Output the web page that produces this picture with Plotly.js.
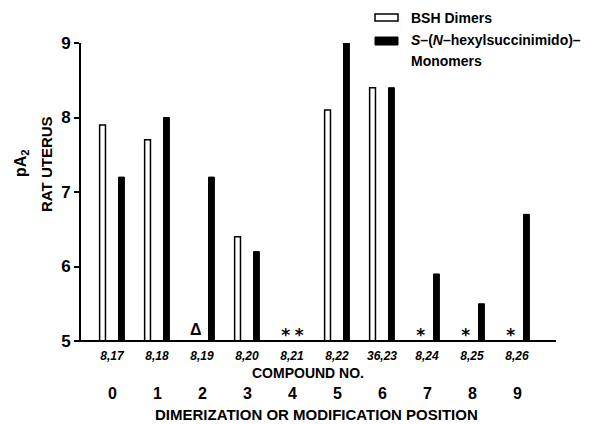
<!DOCTYPE html>
<html><head><meta charset="utf-8">
<script src="https://cdn.plot.ly/plotly-3.0.1.min.js"></script>
<style>body{margin:0;padding:0;background:#fff}#c{width:593px;height:424px}</style>
</head><body><div id="c"></div>
<script>
const positions = [0,1,2,3,4,5,6,7,8,9];
const compoundLabels = ["8,17","8,18","8,19","8,20","8,21","8,22","36,23","8,24","8,25","8,26"];
const dimerValues = [7.9, 7.7, null, 6.4, null, 8.1, 8.4, null, null, null];
const monomerValues = [7.2, 8.0, 7.2, 6.2, null, 9.0, 8.4, 5.9, 5.5, 6.7];
// symbols shown at baseline where no value (Δ = inactive, * = not determined)
const dimerMarks = [null, null, "Δ", null, "*", null, null, "*", "*", "*"];
const monomerMarks = [null, null, null, null, "*", null, null, null, null, null];
const yTicks = [5,6,7,8,9];

const F = "Liberation Sans Narrow, Liberation Sans, Arial, sans-serif";
const bw = 0.13, off = 0.21;

const traces = [
  {type:'bar', x:positions, y:dimerValues, width:bw, offset:-off-bw/2,
   marker:{color:'#fff', line:{color:'#000', width:1.5}}, showlegend:false, hoverinfo:'none'},
  {type:'bar', x:positions, y:monomerValues, width:bw, offset:off-bw/2,
   marker:{color:'#000', line:{color:'#000', width:1}}, showlegend:false, hoverinfo:'none'},
];
const sx=[], sy=[], st=[], tx=[], ty=[], tt=[];
positions.forEach((p,i)=>{
  const add=(m,x)=>{ if(!m) return; if(m==='*'){sx.push(x); sy.push(5.06); st.push(m);} else {tx.push(x); ty.push(5.13); tt.push(m);} };
  add(dimerMarks[i], p-off+0.07);
  add(monomerMarks[i], p+off-0.05);
});
traces.push({type:'scatter', mode:'text', x:sx, y:sy, text:st.map(s=>'<b>'+s+'</b>'), showlegend:false, hoverinfo:'none',
  textfont:{family:"DejaVu Sans, sans-serif", size:17, color:'#000'}});
traces.push({type:'scatter', mode:'text', x:tx, y:ty, text:tt.map(s=>'<b>'+s+'</b>'), showlegend:false, hoverinfo:'none',
  textfont:{family:F, size:16, color:'#000'}});

const W=593,H=424,ml=81,mr=37,mt2=43,mb=83;
const pw=W-ml-mr, ph=H-mt2-mb;
function px2paperX(px){return (px-ml)/pw;}
function px2paperY(py){return (H-mb-py)/ph;}

const annotations = [];
positions.forEach((p,i)=>{
  annotations.push({x:p, y:0, xref:'x', yref:'paper', yanchor:'middle', xanchor:'center', yshift:-52, text:'<b>'+p+'</b>',
    showarrow:false, font:{family:F, size:16, color:'#000'}});
});
annotations.push({x:px2paperX(308), xref:'paper', y:0, yref:'paper', yanchor:'middle', xanchor:'center', yshift:-32, text:'<b>COMPOUND NO.</b>',
  showarrow:false, font:{family:F, size:14, color:'#000'}});
annotations.push({x:px2paperX(316), xref:'paper', y:0, yref:'paper', yanchor:'middle', xanchor:'center', yshift:-73, text:'<b>DIMERIZATION OR MODIFICATION POSITION</b>',
  showarrow:false, font:{family:F, size:15, color:'#000'}});
annotations.push({x:px2paperX(21), y:px2paperY(163), xref:'paper', yref:'paper', xanchor:'center', yanchor:'middle',
  text:'<b>pA<sub>2</sub></b>', textangle:-90, showarrow:false, font:{family:F, size:16, color:'#000'}});
annotations.push({x:px2paperX(46), y:px2paperY(164), xref:'paper', yref:'paper', xanchor:'center', yanchor:'middle',
  text:'<b>RAT UTERUS</b>', textangle:-90, showarrow:false, font:{family:F, size:15, color:'#000'}});
// legend
annotations.push({x:px2paperX(409), y:px2paperY(18), xref:'paper', yref:'paper', xanchor:'left', yanchor:'middle',
  text:'<b>BSH Dimers</b>', showarrow:false, font:{family:F, size:14, color:'#000'}});
annotations.push({x:px2paperX(409), y:px2paperY(40), xref:'paper', yref:'paper', xanchor:'left', yanchor:'middle',
  text:'<b><i>S</i>–(<i>N</i>–hexylsuccinimido)–</b>', showarrow:false, font:{family:F, size:14, color:'#000'}});
annotations.push({x:px2paperX(409), y:px2paperY(61), xref:'paper', yref:'paper', xanchor:'left', yanchor:'middle',
  text:'<b>Monomers</b>', showarrow:false, font:{family:F, size:14, color:'#000'}});

const shapes = [
  {type:'rect', xref:'paper', yref:'paper', x0:px2paperX(375), x1:px2paperX(398), y0:px2paperY(21), y1:px2paperY(14),
   line:{color:'#000', width:1.5}, fillcolor:'#fff'},
  {type:'rect', xref:'paper', yref:'paper', x0:px2paperX(375), x1:px2paperX(398), y0:px2paperY(45), y1:px2paperY(37),
   line:{color:'#000', width:1}, fillcolor:'#000'},
  {type:'line', xref:'paper', yref:'paper', x0:px2paperX(77), x1:1, y0:0, y1:0, line:{color:'#000', width:2}},
];

const layout = {
  width:W, height:H, margin:{l:ml, r:mr, t:mt2, b:mb},
  paper_bgcolor:'#fff', plot_bgcolor:'#fff', showlegend:false, barmode:'overlay',
  xaxis:{range:[-31/45, 9+39/45], tickmode:'array', tickvals:positions, ticktext:compoundLabels.map(s=>'<b><i>'+s+'</i></b>'),
    showgrid:false, zeroline:false, showline:false, ticks:'outside', ticklen:4, tickcolor:'rgba(0,0,0,0)', tickfont:{family:F, size:12, color:'#000'}},
  yaxis:{range:[5,9], tickmode:'array', tickvals:yTicks, showgrid:false, zeroline:false, showline:true,
    linecolor:'#000', linewidth:2, ticks:'outside', ticklen:5, tickwidth:2, tickcolor:'#000',
    ticktext:yTicks.map(v=>'<b>'+v+'</b>'), tickfont:{family:F, size:17, color:'#000'}},
  annotations, shapes
};
Plotly.newPlot('c', traces, layout, {displayModeBar:false, staticPlot:true});
</script></body></html>
